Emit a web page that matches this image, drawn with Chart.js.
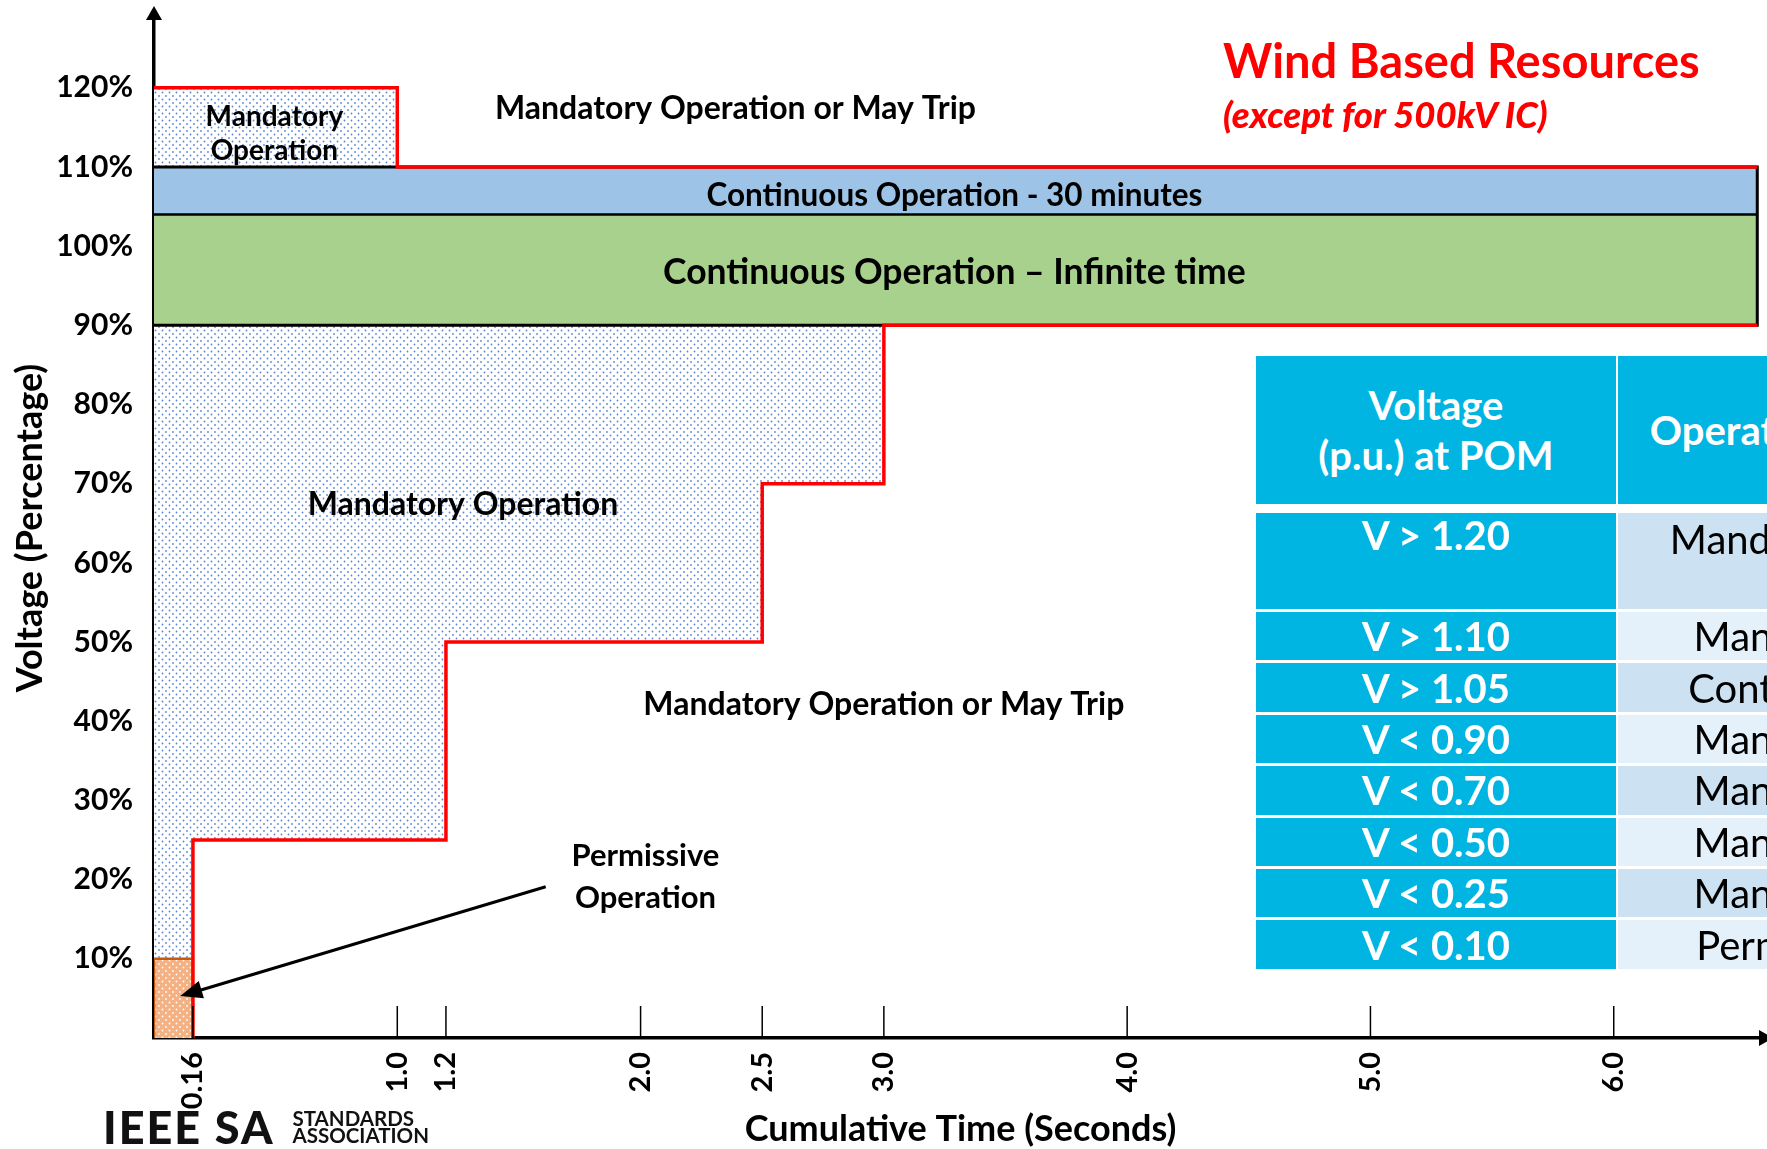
<!DOCTYPE html>
<html>
<head>
<meta charset="utf-8">
<title>Wind Based Resources</title>
<script src="https://cdn.jsdelivr.net/npm/chart.js@4.4.1/dist/chart.umd.min.js"></script>
<style>
  html, body { margin: 0; padding: 0; background: #fff; }
  #wrap { position: relative; width: 1767px; height: 1149px; overflow: hidden; font-family: Lato, "Open Sans", sans-serif; }
  #chart { position: absolute; left: 0; top: 0; }
  .title { position: absolute; left: 1223px; color: #ff0000; font-weight: 700; white-space: nowrap; }
  #t1 { top: 36px; font-size: 47px; line-height: 48px; }
  #t2 { top: 94px; font-size: 36.5px; line-height: 40px; font-style: italic; font-weight: 900; }
  .grid { position: absolute; left: 1256px; display: grid; grid-template-columns: 360px 532px; column-gap: 2px; }
  #head { top: 356px; grid-template-rows: 148px; }
  #body { top: 513px; grid-template-rows: 96px repeat(7, 48.4px); row-gap: 3px; }
  .cell { display: flex; align-items: center; justify-content: center; text-align: center; font-size: 40px; line-height: 44px; }
  .volt { background: #00b5e2; color: #fff; font-weight: 700; }
  .head { background: #00b5e2; color: #fff; font-weight: 700; line-height: 50px; }
  .op { color: #000; }
  .dark { background: #cce2f2; }
  .light { background: #e5f1fa; }
  .top { align-items: flex-start; }
  #logo { position: absolute; left: 103px; top: 1100px; display: flex; align-items: center; color: #111; }
  #logo .ieee { font-size: 45px; font-weight: 900; letter-spacing: 2px; }
  #logo .sa { margin-left: 18px; font-size: 20.5px; font-weight: 700; line-height: 17px; }
</style>
</head>
<body>
<div id="wrap">
  <canvas id="chart" width="1767" height="1149" style="width:1767px;height:1149px"></canvas>
  <div class="title" id="t1">Wind Based Resources</div>
  <div class="title" id="t2">(except for 500kV IC)</div>
  <div class="grid" id="head"></div>
  <div class="grid" id="body"></div>
  <div id="logo"><span class="ieee">IEEE SA</span><span class="sa">STANDARDS<br>ASSOCIATION</span></div>
</div>
<script>
// axis ticks
const xTickValues = [0.16, 1.0, 1.2, 2.0, 2.5, 3.0, 4.0, 5.0, 6.0]
const xTickLabels = ["0.16", "1.0", "1.2", "2.0", "2.5", "3.0", "4.0", "5.0", "6.0"]
const yTickValues = [10, 20, 30, 40, 50, 60, 70, 80, 90, 100, 110, 120]
const yTickLabels = ["10%", "20%", "30%", "40%", "50%", "60%", "70%", "80%", "90%", "100%", "110%", "120%"]

// voltage (%) against cumulative time (s)
const mandatoryHigh = [{ x: 0, y: 120 }, { x: 1.0, y: 120 }]          // down to 110
const band30min = [{ x: 0, y: 110 }, { x: 6.59, y: 110 }]            // down to 104
const bandInfinite = [{ x: 0, y: 104 }, { x: 6.59, y: 104 }]         // down to 90
const mandatoryLow = [
  { x: 0, y: 10 }, { x: 0.16, y: 10 }, { x: 0.16, y: 25 }, { x: 1.2, y: 25 },
  { x: 1.2, y: 50 }, { x: 2.5, y: 50 }, { x: 2.5, y: 70 }, { x: 3.0, y: 70 },
]                                                                    // up to 90
const permissive = [{ x: 0, y: 10 }, { x: 0.16, y: 10 }]             // down to 0
const tripHigh = [{ x: 0, y: 120 }, { x: 1.0, y: 120 }, { x: 1.0, y: 110 }, { x: 6.59, y: 110 }]
const tripLow = [
  { x: 6.59, y: 90 }, { x: 3.0, y: 90 }, { x: 3.0, y: 70 }, { x: 2.5, y: 70 }, { x: 2.5, y: 50 },
  { x: 1.2, y: 50 }, { x: 1.2, y: 25 }, { x: 0.16, y: 25 }, { x: 0.16, y: 0 },
]
const bandOutline = [{ x: 0, y: 110 }, { x: 6.59, y: 110 }, { x: 6.59, y: 90 }, { x: 0, y: 90 }]
const bandDivider = [{ x: 0, y: 104 }, { x: 6.59, y: 104 }]
const permissiveOutline = [{ x: 0, y: 0 }, { x: 0, y: 10 }, { x: 0.16, y: 10 }, { x: 0.16, y: 0 }]

// table
const tableHead = ["Voltage<br>(p.u.) at POM", "Operational Requirements"]
const tableVoltage = ["V > 1.20", "V > 1.10", "V > 1.05", "V < 0.90", "V < 0.70", "V < 0.50", "V < 0.25", "V < 0.10"]
const tableOperation = [
  "Mandatory Operation or<br>May Trip", "Mandatory Operation", "Continuous Operation", "Mandatory Operation",
  "Mandatory Operation", "Mandatory Operation", "Mandatory Operation", "Permissive Operation",
]

const head = document.getElementById("head")
tableHead.forEach((t) => {
  const d = document.createElement("div")
  d.className = "cell head"
  d.innerHTML = t
  head.appendChild(d)
})
const body = document.getElementById("body")
tableVoltage.forEach((v, i) => {
  const a = document.createElement("div")
  a.className = "cell volt" + (i === 0 ? " top" : "")
  a.textContent = v
  const b = document.createElement("div")
  b.className = "cell op " + (i % 2 === 0 ? "dark" : "light")
  b.innerHTML = tableOperation[i]
  body.appendChild(a)
  body.appendChild(b)
})

function dotPattern(bg, dot) {
  const c = document.createElement("canvas")
  c.width = 7
  c.height = 7
  const g = c.getContext("2d")
  g.fillStyle = bg
  g.fillRect(0, 0, 7, 7)
  g.fillStyle = dot
  g.beginPath()
  g.arc(1.5, 1.5, 0.9, 0, Math.PI * 2)
  g.arc(5, 5, 0.9, 0, Math.PI * 2)
  g.fill()
  return g.createPattern(c, "repeat")
}

const blueDots = dotPattern("#ffffff", "#5a86d4")
const orangeDots = dotPattern("#f4b183", "#ffffff")

const FONT = "Lato, 'Open Sans', sans-serif"

const notes = [
  { text: "Mandatory", x: 0.495, y: 116.3, size: 28 },
  { text: "Operation", x: 0.495, y: 112.0, size: 28 },
  { text: "Mandatory Operation or May Trip", x: 2.39, y: 117.3, size: 32 },
  { text: "Continuous Operation - 30 minutes", x: 3.29, y: 106.3, size: 31.5 },
  { text: "Continuous Operation \u2013 Infinite time", x: 3.29, y: 96.7, size: 35.5 },
  { text: "Mandatory Operation", x: 1.27, y: 67.4, size: 32 },
  { text: "Mandatory Operation or May Trip", x: 3.0, y: 42.1, size: 32 },
  { text: "Permissive", x: 2.02, y: 23.0, size: 31 },
  { text: "Operation", x: 2.02, y: 17.7, size: 31 },
]

function arrowHead(ctx, x0, y0, x1, y1, len, half) {
  const a = Math.atan2(y1 - y0, x1 - x0)
  ctx.beginPath()
  ctx.moveTo(x1, y1)
  ctx.lineTo(x1 - len * Math.cos(a) + half * Math.sin(a), y1 - len * Math.sin(a) - half * Math.cos(a))
  ctx.lineTo(x1 - len * Math.cos(a) - half * Math.sin(a), y1 - len * Math.sin(a) + half * Math.cos(a))
  ctx.closePath()
  ctx.fill()
}

const overlay = {
  id: "overlay",
  afterDatasetsDraw(chart) {
    const { ctx, scales: { x, y } } = chart
    ctx.save()
    // tick marks drawn upward from the time axis
    ctx.strokeStyle = "#000"
    ctx.lineWidth = 1.5
    xTickValues.forEach((v) => {
      const px = x.getPixelForValue(v)
      ctx.beginPath()
      ctx.moveTo(px, y.bottom)
      ctx.lineTo(px, y.bottom - 32)
      ctx.stroke()
    })
    // region labels
    ctx.fillStyle = "#000"
    ctx.textAlign = "center"
    ctx.textBaseline = "middle"
    notes.forEach((n) => {
      ctx.font = "bold " + n.size + "px " + FONT
      ctx.fillText(n.text, x.getPixelForValue(n.x), y.getPixelForValue(n.y))
    })
    // arrow to the permissive zone
    const x0 = x.getPixelForValue(1.61), y0 = y.getPixelForValue(19.1)
    const x1 = x.getPixelForValue(0.108), y1 = y.getPixelForValue(5.3)
    ctx.lineWidth = 3
    ctx.beginPath()
    ctx.moveTo(x0, y0)
    ctx.lineTo(x1 + 14, y1 - 4)
    ctx.stroke()
    arrowHead(ctx, x0, y0, x1, y1, 22, 9)
    ctx.restore()
  },
  afterDraw(chart) {
    const { ctx, chartArea } = chart
    ctx.save()
    ctx.fillStyle = "#000"
    arrowHead(ctx, chartArea.left, chartArea.bottom, chartArea.left, chartArea.top - 12, 14, 8)
    arrowHead(ctx, chartArea.left, chartArea.bottom, chartArea.right + 6, chartArea.bottom, 14, 8)
    ctx.restore()
  },
}

const fillSet = (data, bg, target, order) => ({
  data: data,
  backgroundColor: bg,
  borderColor: "transparent",
  borderWidth: 0,
  fill: { value: target },
  order: order,
})
const lineSet = (data, color, width, order) => ({
  data: data,
  borderColor: color,
  borderWidth: width,
  fill: false,
  order: order,
})

new Chart(document.getElementById("chart"), {
  type: "line",
  data: {
    datasets: [
      fillSet(mandatoryHigh, blueDots, 110, 10),
      fillSet(band30min, "#9dc3e6", 104, 10),
      fillSet(bandInfinite, "#a9d18e", 90, 10),
      fillSet(mandatoryLow, blueDots, 90, 10),
      fillSet(permissive, orangeDots, 0, 10),
      lineSet(bandOutline, "#000", 3, 5),
      lineSet(bandDivider, "#000", 2.5, 5),
      lineSet(permissiveOutline, "#c55a11", 2.5, 5),
      lineSet(tripHigh, "#ff0000", 3.5, 1),
      lineSet(tripLow, "#ff0000", 3.5, 1),
    ],
  },
  options: {
    responsive: false,
    animation: false,
    devicePixelRatio: 1,
    layout: { padding: { top: 18, right: 0, left: 0, bottom: 0 } },
    elements: { point: { radius: 0 }, line: { tension: 0 } },
    plugins: { legend: { display: false }, tooltip: { enabled: false } },
    scales: {
      x: {
        type: "linear",
        min: 0,
        max: 6.63,
        z: 1,
        afterBuildTicks: (s) => { s.ticks = xTickValues.map((v) => ({ value: v })) },
        afterFit: (s) => { s.height = 111; s.paddingLeft = 0; s.paddingRight = 0 },
        ticks: {
          autoSkip: false,
          minRotation: 90,
          maxRotation: 90,
          padding: 6,
          color: "#000",
          font: { family: FONT, size: 29, weight: "bold" },
          callback: (v, i) => xTickLabels[i],
        },
        grid: { display: false },
        border: { color: "#000", width: 3.5 },
        title: {
          display: true,
          text: "Cumulative Time (Seconds)",
          color: "#000",
          font: { family: FONT, size: 36, weight: "bold", lineHeight: 1 },
          padding: { top: 0, bottom: 1.5 },
        },
      },
      y: {
        type: "linear",
        min: 0,
        max: 128.8,
        z: 1,
        afterBuildTicks: (s) => { s.ticks = yTickValues.map((v) => ({ value: v })) },
        afterFit: (s) => { s.width = 154; s.paddingTop = 0; s.paddingBottom = 0 },
        ticks: {
          padding: 13,
          color: "#000",
          font: { family: FONT, size: 30, weight: "bold" },
          callback: (v, i) => yTickLabels[i],
        },
        grid: { display: false },
        border: { color: "#000", width: 3.5 },
        title: {
          display: true,
          text: "Voltage (Percentage)",
          color: "#000",
          font: { family: FONT, size: 36, weight: "bold", lineHeight: 1 },
          padding: { top: 12, bottom: 0 },
        },
      },
    },
  },
  plugins: [overlay],
})
</script>
</body>
</html>
